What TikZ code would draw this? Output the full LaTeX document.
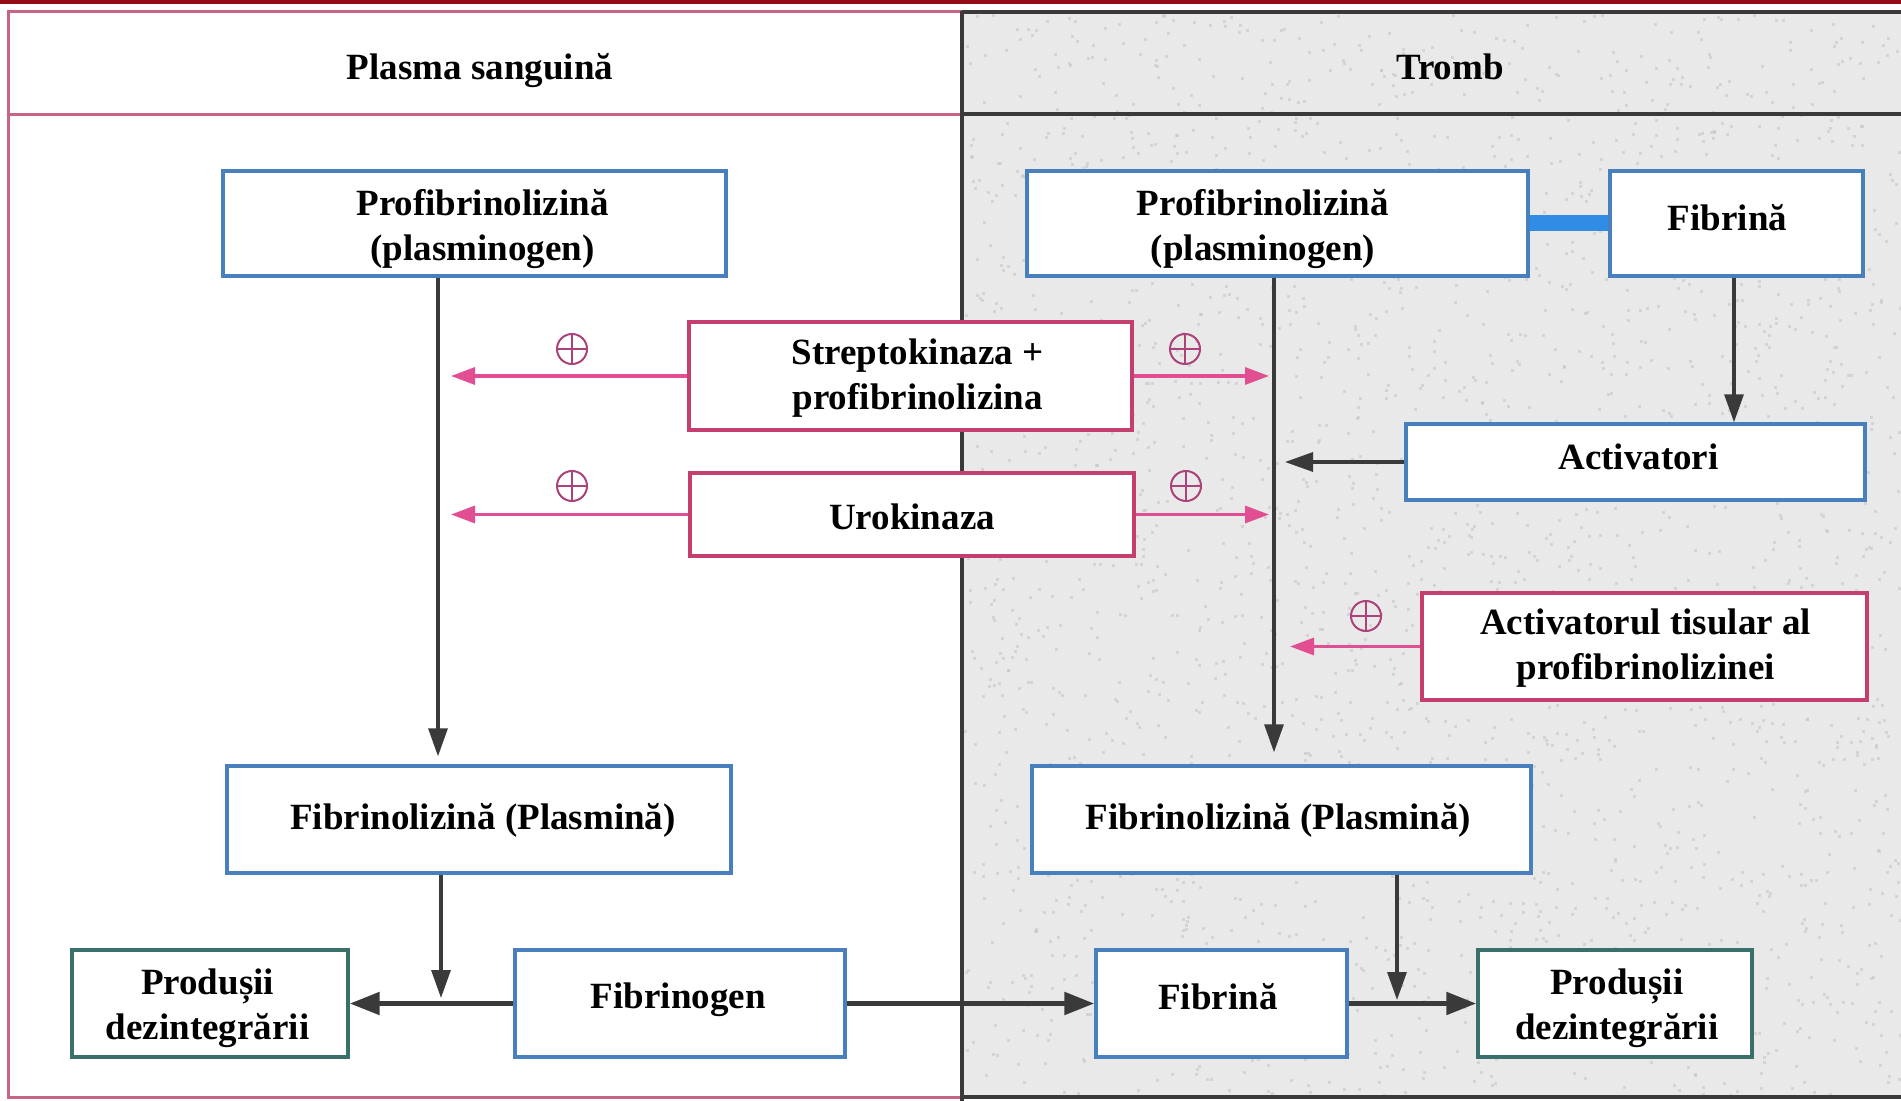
\documentclass[tikz,border=0pt]{standalone}
\usepackage{fontspec}
\setmainfont{Liberation Serif}
\usetikzlibrary{arrows.meta,calc}

\definecolor{boxblue}{RGB}{72,128,190}
\definecolor{boxpink}{RGB}{196,62,112}
\definecolor{arrpink}{RGB}{226,78,146}
\definecolor{pluscol}{RGB}{172,66,122}
\definecolor{boxteal}{RGB}{58,112,108}
\definecolor{darkline}{RGB}{58,58,58}
\definecolor{panelgray}{RGB}{233,233,233}
\definecolor{specklegray}{RGB}{196,196,196}
\definecolor{topred}{RGB}{150,12,22}
\definecolor{framepink}{RGB}{200,100,135}
\definecolor{bondblue}{RGB}{48,140,228}

\tikzset{
  txt/.style={font=\bfseries\fontsize{18.5}{22.5}\selectfont, align=center, text=black, inner sep=0pt},
  box/.style={draw, fill=white, line width=1.7pt, inner sep=0pt},
  bluebox/.style={box, draw=boxblue},
  pinkbox/.style={box, draw=boxpink},
  tealbox/.style={box, draw=boxteal},
  darr/.style={draw=darkline, line width=1.6pt, -{Triangle[length=14pt,width=9.5pt]}},
  darrthick/.style={draw=darkline, line width=2.6pt, -{Triangle[length=15pt,width=11pt]}},
  parr/.style={draw=arrpink, line width=1.6pt, -{Triangle[length=12pt,width=8.5pt]}},
  plussign/.style={circle, draw=pluscol, line width=1pt, minimum size=15pt, inner sep=0pt,
    path picture={\draw[pluscol, line width=0.9pt]
      (path picture bounding box.north) -- (path picture bounding box.south)
      (path picture bounding box.west) -- (path picture bounding box.east);}},
}

\begin{document}
\begin{tikzpicture}[x=0.5pt, y=-0.5pt]
\useasboundingbox (0,0) rectangle (1901,1101);
\fill[white] (0,0) rectangle (1901,1101);

% thrombus panel: grey mottled background
\fill[panelgray] (962,12) rectangle (1901,1097);
\pgfmathsetseed{4217}
\foreach \i in {1,...,2600}{
  \pgfmathsetmacro\px{964+rnd*935}
  \pgfmathsetmacro\py{14+rnd*1081}
  \fill[specklegray, opacity=0.55] (\px,\py) rectangle ++(3,3);
}

% panel frames
\fill[topred] (0,0) rectangle (1901,4);
\draw[framepink, line width=1.5pt] (962,12) -- (8,12) -- (8,1097) -- (962,1097);
\draw[framepink, line width=1.5pt] (8,115) -- (962,115);
\draw[darkline, line width=2pt] (962,12) -- (1901,12);
\draw[darkline, line width=2pt] (962,114) -- (1901,114);
\draw[darkline, line width=2pt] (962,1097) -- (1901,1097);
\draw[darkline, line width=2pt] (962,11) -- (962,1101);

% panel titles
\node[txt] (hL) at (480,71) {Plasma sanguină};
\node[txt] (hR) at (1450,67) {Tromb};

% blood plasma side
\node[bluebox, minimum width=251.5pt, minimum height=52.5pt,
  label={[txt, xshift=4pt, yshift=-2.7pt]center:Profibrinolizină\\(plasminogen)}] (pl1) at (474.5,223.5) {};
\node[bluebox, minimum width=252pt, minimum height=53.5pt,
  label={[txt, xshift=2pt, yshift=-0.6pt]center:Fibrinolizină (Plasmină)}] (fl1) at (479,819.5) {};
\node[tealbox, minimum width=138pt, minimum height=53.5pt,
  label={[txt, xshift=-1.2pt, yshift=-2.4pt]center:Produșii\\dezintegrării}] (pr1) at (210,1003.5) {};
\node[bluebox, minimum width=165pt, minimum height=53.5pt,
  label={[txt, xshift=-0.9pt, yshift=1.8pt]center:Fibrinogen}] (fgen) at (680,1003.5) {};

% therapeutic activators (straddle both panels)
\node[pinkbox, minimum width=221.5pt, minimum height=54pt,
  label={[txt, xshift=3.6pt, yshift=-1.2pt]center:Streptokinaza +\\profibrinolizina}] (strep) at (910.5,376) {};
\node[pinkbox, minimum width=222pt, minimum height=41.5pt,
  label={[txt, yshift=-1.2pt]center:Urokinaza}] (uro) at (912,514.5) {};

% thrombus side
\node[bluebox, minimum width=250.5pt, minimum height=52.5pt,
  label={[txt, xshift=-7.3pt, yshift=-2.7pt]center:Profibrinolizină\\(plasminogen)}] (pl2) at (1277.5,223.5) {};
\node[bluebox, minimum width=126.5pt, minimum height=52.5pt,
  label={[txt, xshift=-4.5pt, yshift=3pt]center:Fibrină}] (fb1) at (1736.5,223.5) {};
\node[bluebox, minimum width=229.5pt, minimum height=38pt,
  label={[txt, xshift=1.5pt, yshift=2.4pt]center:Activatori}] (act) at (1635.5,462) {};
\node[pinkbox, minimum width=222.5pt, minimum height=53.5pt,
  label={[txt, xshift=0.6pt, yshift=-0.9pt]center:Activatorul tisular al\\profibrinolizinei}] (tis) at (1644.5,646.5) {};
\node[bluebox, minimum width=249.5pt, minimum height=53.5pt,
  label={[txt, xshift=-1.5pt, yshift=-0.6pt]center:Fibrinolizină (Plasmină)}] (fl2) at (1281.5,819.5) {};
\node[bluebox, minimum width=125.5pt, minimum height=53.5pt,
  label={[txt, xshift=-1.8pt, yshift=3.6pt]center:Fibrină}] (fb2) at (1221.5,1003.5) {};
\node[tealbox, minimum width=137pt, minimum height=53.5pt,
  label={[txt, xshift=0.9pt, yshift=-2.4pt]center:Produșii\\dezintegrării}] (pr2) at (1615,1003.5) {};

% free ends of the activation arrows (they point at the conversion lines)
\coordinate (sL) at (451,376);
\coordinate (uL) at (451,514.5);
\coordinate (sR) at (1269,376);
\coordinate (uR) at (1269,514.5);
\coordinate (aR) at (1285,462);
\coordinate (tR) at (1290,646.5);
\coordinate (jL) at (441,998);
\coordinate (jR) at (1397,1000);

% plasminogen -> plasmin conversions
\draw[darr] ([xshift=-18.25pt]pl1.south) -- ([xshift=-20.5pt,yshift=4pt]fl1.north);
\draw[darr] ([xshift=-1.75pt]pl2.south) -- ([xshift=-3.75pt,yshift=6pt]fl2.north);

% activators acting on the conversion lines
\draw[parr] (strep.west) -- (sL);
\draw[parr] (uro.west) -- (uL);
\draw[parr] (strep.east) -- (sR);
\draw[parr] (uro.east) -- (uR);
\draw[parr] (tis.west) -- (tR);
\draw[darr] (act.west) -- (aR);
\draw[darr] ([xshift=-1.25pt]fb1.south) -- ([xshift=49.25pt]act.north);

\node[plussign] (p1) at (572,349) {};
\node[plussign] (p2) at (572,486) {};
\node[plussign] (p3) at (1185,349) {};
\node[plussign] (p4) at (1186,486) {};
\node[plussign] (p5) at (1366,616) {};

% plasminogen bound to fibrin
\draw[bondblue, line width=8pt] (pl2.east) -- (fb1.west);

% degradation
\draw[darr] ([xshift=-19pt]fl1.south) -- (jL);
\draw[darrthick] (fgen.west) -- (pr1.east);
\draw[darrthick] (fgen.east) -- (fb2.west);
\draw[darr] ([xshift=57.75pt]fl2.south) -- (jR);
\draw[darrthick] (fb2.east) -- (pr2.west);
\end{tikzpicture}
\end{document}
